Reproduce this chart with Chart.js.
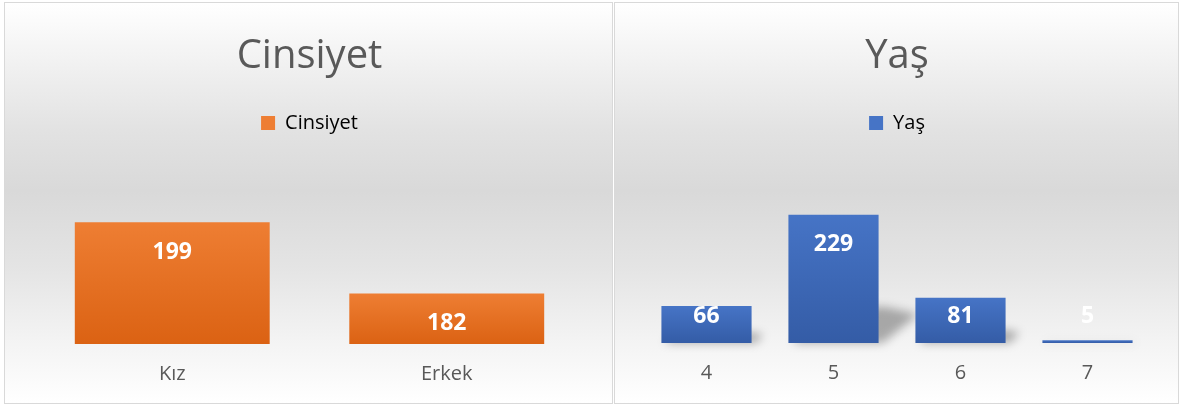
<!DOCTYPE html>
<html>
<head>
<meta charset="utf-8">
<script src="https://cdn.jsdelivr.net/npm/chart.js@4.4.1/dist/chart.umd.min.js"></script>
<style>
  body { margin: 0; width: 1180px; height: 406px; background: #fff; position: relative; overflow: hidden; }
  .box {
    position: absolute; top: 2px; height: 400px; border: 1px solid #d9d9d9;
    background: linear-gradient(to bottom, #ffffff 0%, #f4f4f4 12%, #e2e2e2 32%, #d9d9d9 47%, #e4e4e4 66%, #f3f3f3 84%, #ffffff 100%);
  }
  #boxA { left: 4px; width: 607px; }
  #boxB { left: 614px; width: 563px; }
  canvas { display: block; }
</style>
</head>
<body>
<div class="box" id="boxA"><canvas id="gender" width="607" height="400"></canvas></div>
<div class="box" id="boxB"><canvas id="age" width="563" height="400"></canvas></div>
<script>
// cinsiyet
const genderLabels = ['Kız', 'Erkek'];
const genderCounts = [199, 182];
const genderRange = [170, 205];

// yaş
const ageLabels = ['4', '5', '6', '7'];
const ageCounts = [66, 229, 81, 5];
const ageRange = [0, 250];

const textGrey = '#595959';
const font = '"Open Sans", "DejaVu Sans", sans-serif';

// perspective-ish shadow behind each bar, lower right
const barShadow = {
  id: 'barShadow',
  beforeDatasetsDraw(chart) {
    const ctx = chart.ctx;
    ctx.save();
    ctx.filter = 'blur(5px)';
    ctx.fillStyle = 'rgba(0,0,0,0.30)';
    chart.getDatasetMeta(0).data.forEach(bar => {
      const h = bar.base - bar.y;
      const d = h * 0.28;
      const left = bar.x - bar.width / 2, right = bar.x + bar.width / 2;
      ctx.beginPath();
      ctx.moveTo(left + 4, bar.base);
      ctx.lineTo(right + 4, bar.base);
      ctx.lineTo(right + d * 1.1, bar.base - d * 0.8);
      ctx.lineTo(right + d * 0.2, bar.base - d);
      ctx.lineTo(left + d, bar.base - d);
      ctx.closePath();
      ctx.fill();
    });
    ctx.restore();
  }
};

// white value labels, inside end
const valueLabels = {
  id: 'valueLabels',
  afterDatasetsDraw(chart) {
    const ctx = chart.ctx;
    const values = chart.data.datasets[0].data;
    ctx.save();
    ctx.font = 'bold 23px ' + font;
    ctx.fillStyle = '#ffffff';
    ctx.textAlign = 'center';
    ctx.textBaseline = 'middle';
    chart.getDatasetMeta(0).data.forEach((bar, i) => {
      const y = Math.min(bar.y + 30, bar.base - 27);
      ctx.fillText(values[i], bar.x, y);
    });
    ctx.restore();
  }
};

function barFill(top, bottom) {
  return (c) => {
    const chart = c.chart;
    if (!chart.chartArea || c.type !== 'data') return top;
    const y = chart.scales.y;
    const y0 = y.getPixelForValue(c.raw);
    const y1 = y.getPixelForValue(y.min);
    if (!(y1 > y0)) return top;
    const g = chart.ctx.createLinearGradient(0, y0, 0, y1);
    g.addColorStop(0, top);
    g.addColorStop(1, bottom);
    return g;
  };
}

function makeChart(id, labels, values, name, colors, range, pad, legendGap) {
  const chart = new Chart(document.getElementById(id), {
    type: 'bar',
    data: {
      labels: labels,
      datasets: [{
        label: name,
        data: values,
        backgroundColor: barFill(colors[0], colors[1]),
        borderWidth: 0,
        barPercentage: 0.71,
        categoryPercentage: 1
      }]
    },
    options: {
      responsive: false,
      animation: false,
      events: [],
      layout: { padding: pad },
      scales: {
        x: {
          grid: { display: false, drawTicks: false },
          border: { display: false },
          ticks: { color: textGrey, font: { family: font, size: 20 }, padding: 18 }
        },
        y: { display: false, min: range[0], max: range[1] }
      },
      plugins: {
        title: {
          display: true,
          text: name,
          color: textGrey,
          font: { family: font, size: 40, weight: 'normal' },
          padding: { top: 30, bottom: 22 }
        },
        legend: {
          display: true,
          labels: {
            color: textGrey,
            font: { family: font, size: 20 },
            boxWidth: 14,
            boxHeight: 14,
            generateLabels: (ch) => [{
              text: name, fillStyle: colors[0], strokeStyle: colors[0], lineWidth: 0, datasetIndex: 0
            }]
          }
        },
        tooltip: { enabled: false }
      }
    },
    plugins: [barShadow, valueLabels]
  });
  // leave room under the legend like the original
  const fitLegend = chart.legend.fit;
  chart.legend.fit = function () {
    fitLegend.call(this);
    this.height += legendGap;
  };
  chart.update();
  return chart;
}

makeChart('gender', genderLabels, genderCounts, 'Cinsiyet', ['#ee7e33', '#db6213'], genderRange,
  { top: 0, left: 30, right: 28, bottom: -1 }, 54);
makeChart('age', ageLabels, ageCounts, 'Yaş', ['#4674c6', '#345ca6'], ageRange,
  { top: 0, left: 28, right: 27, bottom: 0 }, 60);
</script>
</body>
</html>
